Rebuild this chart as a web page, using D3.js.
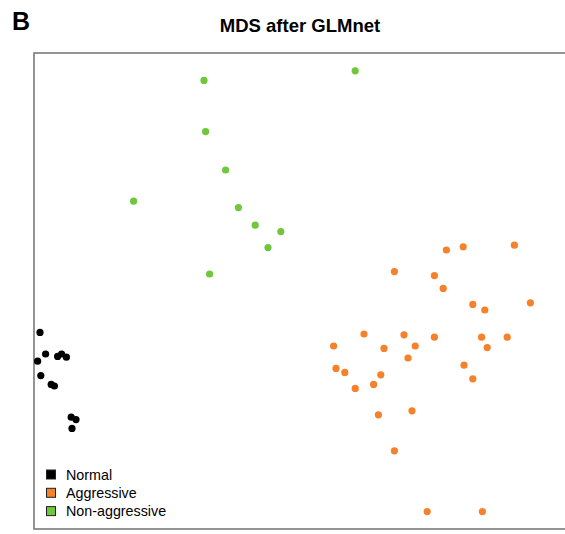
<!DOCTYPE html>
<html>
<head>
<meta charset="utf-8">
<script src="https://d3js.org/d3.v7.min.js"></script>
<style>
	body{margin:0;background:#fff;}
	text{font-family:"Liberation Sans", Arial, sans-serif;}
</style>
</head>
<body>
<script>
	// MDS coordinates (dim1, dim2)
	var normalX = [-3.25,-3.18,-3.28,-3.03,-2.98,-2.92,-3.24,-3.11,-3.07,-2.86,-2.80,-2.85];
	var normalY = [-0.53,-0.80,-0.89,-0.83,-0.80,-0.84,-1.07,-1.18,-1.20,-1.59,-1.62,-1.73];

	var aggrX = [1.83,2.04,2.68,1.18,1.68,1.79,2.16,2.31,2.88,0.80,1.30,1.68,2.27,2.59,0.42,1.05,
				1.44,2.34,1.35,0.45,0.56,1.01,2.05,2.16,0.69,0.92,0.98,1.40,1.18,1.59,2.28];
	var aggrY = [0.50,0.54,0.56,0.23,0.18,0.02,-0.18,-0.25,-0.16,-0.55,-0.56,-0.59,-0.59,-0.59,-0.70,-0.73,
				-0.70,-0.72,-0.85,-0.98,-1.03,-1.06,-0.94,-1.11,-1.23,-1.18,-1.56,-1.51,-2.01,-2.77,-2.77];

	var nonAggrX = [-1.20,0.69,-1.18,-0.93,-2.08,-0.77,-0.56,-0.24,-0.40,-1.13];
	var nonAggrY = [2.62,2.74,1.98,1.50,1.11,1.03,0.81,0.73,0.53,0.20];

	var groups = ["Normal","Aggressive","Non-aggressive"];
	var colors = ["#000000","#f5812b","#6fc83c"];

	var width = 565, height = 534;
	var left = 34, top_ = 53, right = 566, bottom = 529;

	var svg = d3.select("body").append("svg")
				.attr("width", width).attr("height", height);

	var x = d3.scaleLinear().domain([-3.325, 3.325]).range([left, right]);
	var y = d3.scaleLinear().domain([-2.9875, 2.9625]).range([bottom, top_]);

	svg.append("text").text("B")
		.attr("x", 12).attr("y", 29.5)
		.attr("font-size", 25).attr("font-weight", "bold");

	svg.append("text").text("MDS after GLMnet")
		.attr("x", 300).attr("y", 31.5)
		.attr("text-anchor", "middle")
		.attr("font-size", 18.5).attr("font-weight", "bold");

	svg.append("rect")
		.attr("x", left).attr("y", top_)
		.attr("width", right - left + 4).attr("height", bottom - top_)
		.attr("fill", "none").attr("stroke", "#7a7a7a").attr("stroke-width", 1.6);

	var series = [
		{name: groups[0], xs: normalX, ys: normalY, color: colors[0]},
		{name: groups[1], xs: aggrX, ys: aggrY, color: colors[1]},
		{name: groups[2], xs: nonAggrX, ys: nonAggrY, color: colors[2]}
	];

	series.forEach(function(s){
		svg.append("g").selectAll("circle")
			.data(s.xs.map(function(v, i){ return [v, s.ys[i]]; }))
			.enter().append("circle")
			.attr("cx", function(d){ return x(d[0]); })
			.attr("cy", function(d){ return y(d[1]); })
			.attr("r", 3.6)
			.attr("fill", s.color);
	});

	var legend = svg.append("g").selectAll("g")
				.data(series).enter().append("g")
				.attr("transform", function(d, i){ return "translate(46.5," + (474.5 + i * 18.3) + ")"; });

	legend.append("rect")
		.attr("x", 0).attr("y", -4.5)
		.attr("width", 9).attr("height", 9)
		.attr("fill", function(d){ return d.color; })
		.attr("stroke", "#222").attr("stroke-width", 1);

	legend.append("text")
		.text(function(d){ return d.name; })
		.attr("x", 19.5).attr("y", 0)
		.attr("dy", "0.35em")
		.attr("font-size", 14.3);
</script>
</body>
</html>
